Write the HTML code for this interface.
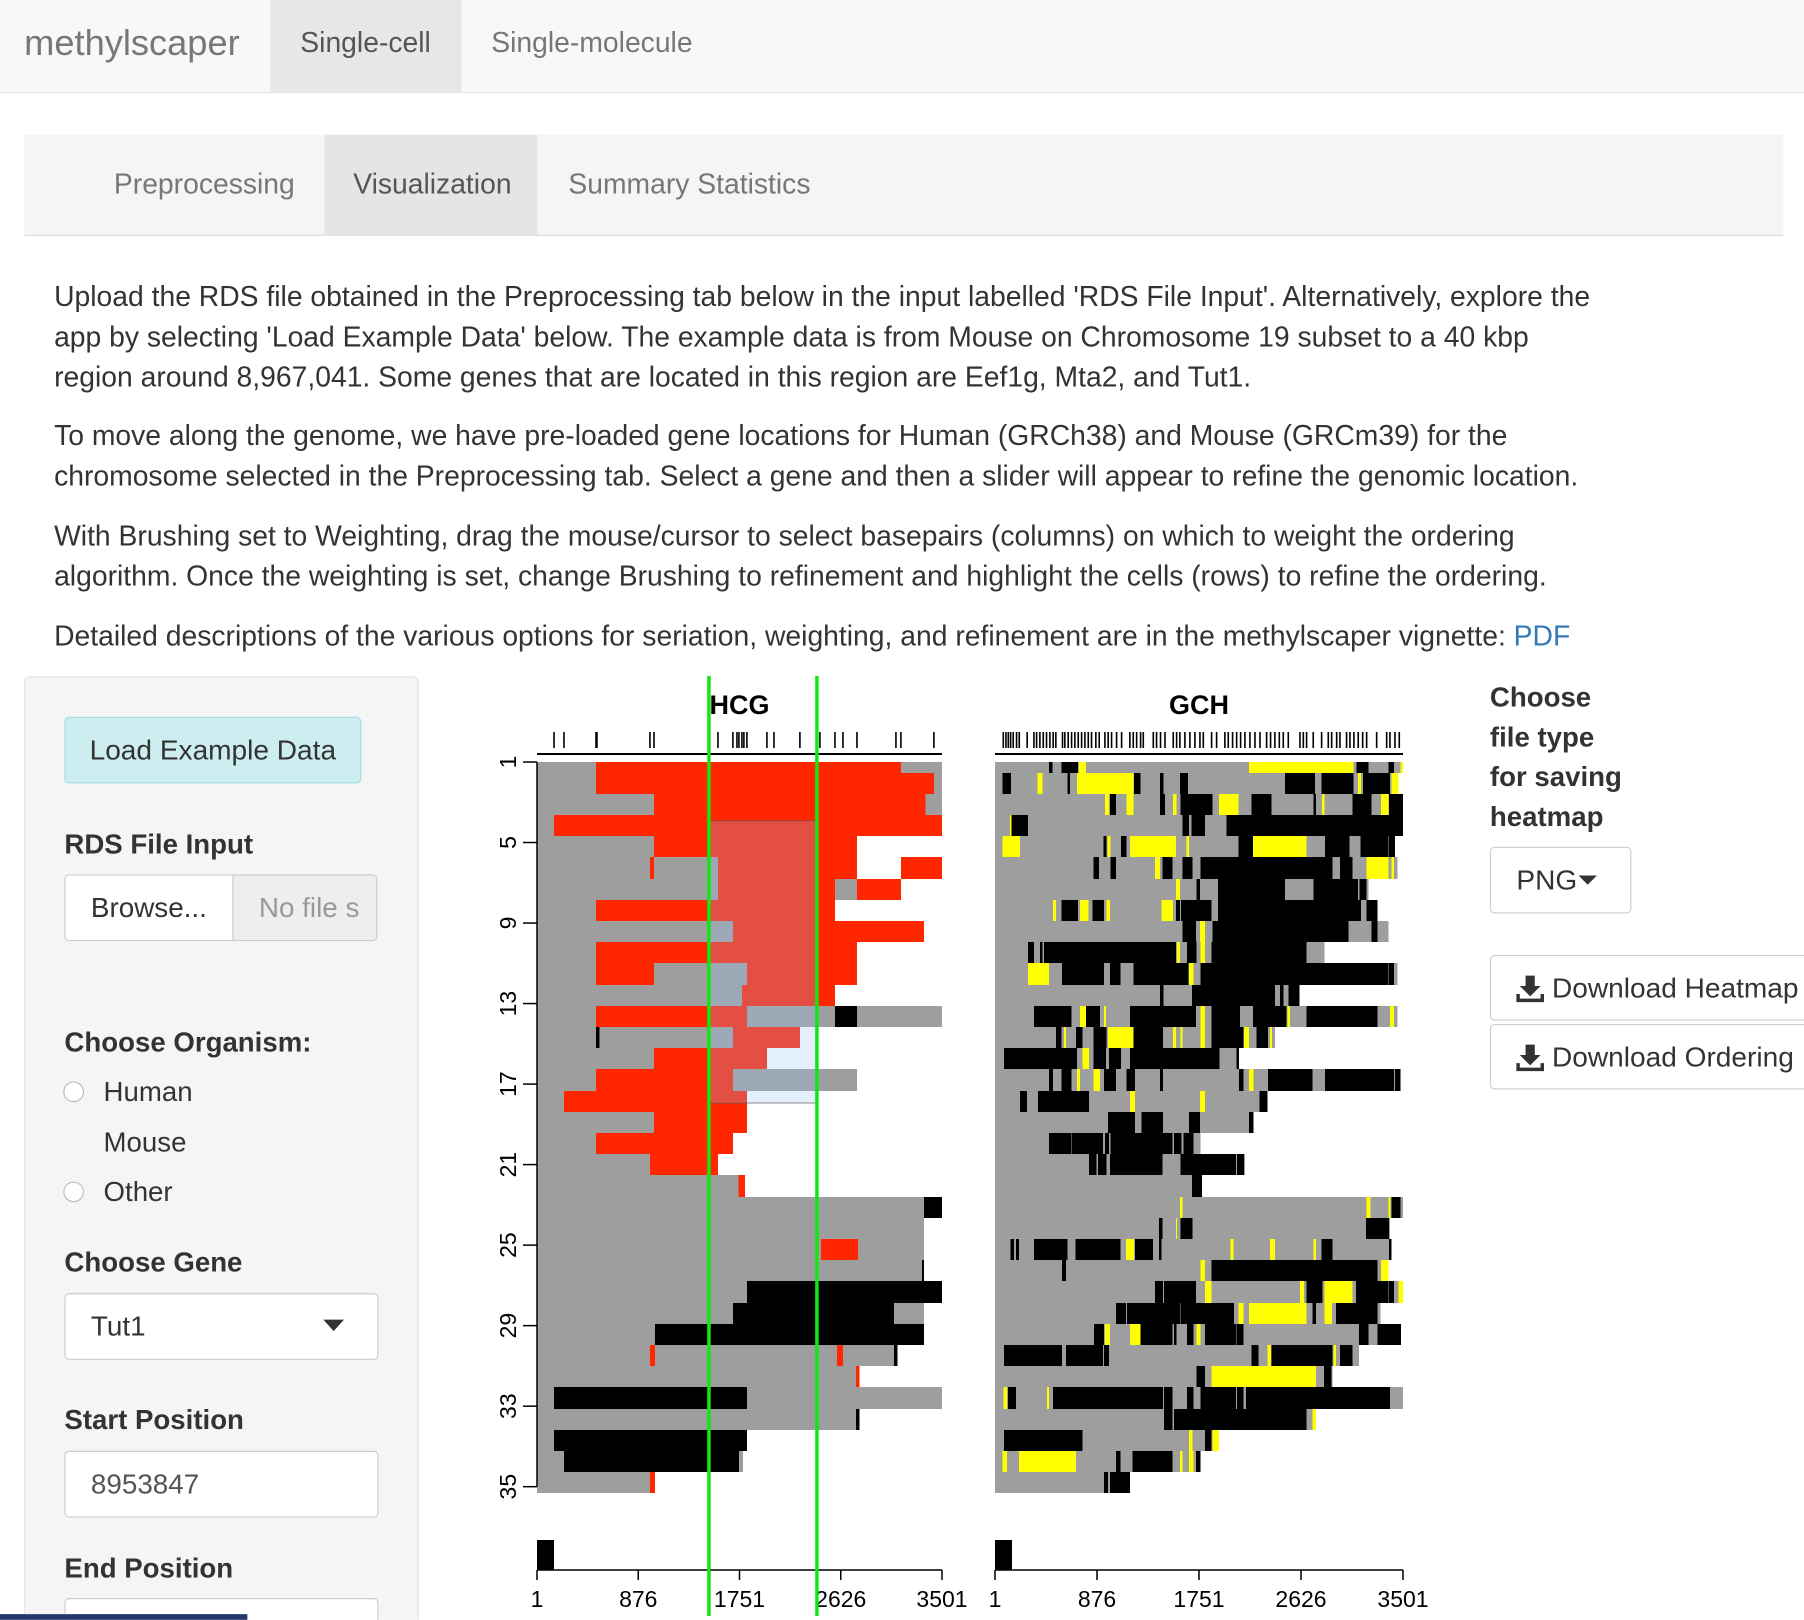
<!DOCTYPE html>
<html><head><meta charset="utf-8">
<style>
html,body{margin:0;padding:0;background:#fff;width:1804px;height:1620px;overflow:hidden;font-family:"Liberation Sans",Arial,sans-serif;}
#ui{position:absolute;left:0;top:0;width:1568px;height:1408px;transform:scale(1.15051);transform-origin:0 0;overflow:hidden;}
.abs{position:absolute;}
.nav{left:0;top:0;width:1568px;height:80px;background:#f8f8f8;border-bottom:1px solid #e7e7e7;}
.t{white-space:nowrap;}
.p{left:47px;font-size:24.6px;color:#333;line-height:35px;white-space:nowrap;}
.lbl{font-size:24px;font-weight:bold;color:#333;}
.inp{background:#fff;border:1px solid #ccc;border-radius:4px;box-sizing:border-box;font-size:24.2px;color:#555;}
.radio{width:18px;height:18px;border:1px solid #bbb;border-radius:50%;background:#fff;box-sizing:border-box;}
.btn{background:#fff;border:1px solid #ccc;border-radius:4px;box-sizing:border-box;font-size:24.4px;color:#333;}
svg text{font-family:"Liberation Sans",Arial,sans-serif;}
#chart rect{shape-rendering:crispEdges;}
</style></head>
<body>
<div id="ui">
  <div class="abs nav"></div>
  <div class="abs t" style="left:21px;top:19px;font-size:31.5px;color:#777;">methylscaper</div>
  <div class="abs" style="left:235px;top:0;width:166px;height:80px;background:#e7e7e7;"></div>
  <div class="abs t" style="left:261px;top:24px;font-size:24.6px;color:#555;">Single-cell</div>
  <div class="abs t" style="left:427px;top:24px;font-size:24.6px;color:#777;">Single-molecule</div>

  <div class="abs" style="left:21px;top:117px;width:1529px;height:87px;background:#f5f5f5;border-bottom:1px solid #ddd;"></div>
  <div class="abs t" style="left:99px;top:147px;font-size:24.6px;color:#777;">Preprocessing</div>
  <div class="abs" style="left:282px;top:117px;width:185px;height:87px;background:#e5e5e5;"></div>
  <div class="abs t" style="left:307px;top:147px;font-size:24.6px;color:#555;">Visualization</div>
  <div class="abs t" style="left:494px;top:147px;font-size:24.6px;color:#777;">Summary Statistics</div>

  <div class="abs p" style="top:241px;">Upload the RDS file obtained in the Preprocessing tab below in the input labelled 'RDS File Input'. Alternatively, explore the<br>app by selecting 'Load Example Data' below. The example data is from Mouse on Chromosome 19 subset to a 40 kbp<br>region around 8,967,041. Some genes that are located in this region are Eef1g, Mta2, and Tut1.</div>
  <div class="abs p" style="top:362px;">To move along the genome, we have pre-loaded gene locations for Human (GRCh38) and Mouse (GRCm39) for the<br>chromosome selected in the Preprocessing tab. Select a gene and then a slider will appear to refine the genomic location.</div>
  <div class="abs p" style="top:449px;">With Brushing set to Weighting, drag the mouse/cursor to select basepairs (columns) on which to weight the ordering<br>algorithm. Once the weighting is set, change Brushing to refinement and highlight the cells (rows) to refine the ordering.</div>
  <div class="abs p" style="top:536px;">Detailed descriptions of the various options for seriation, weighting, and refinement are in the methylscaper vignette: <span style="color:#337ab7">PDF</span></div>

  <div class="abs" style="left:21px;top:588px;width:343px;height:840px;background:#f5f5f5;border:1px solid #e3e3e3;border-radius:4px;box-sizing:border-box;"></div>
  <div class="abs t" style="left:56px;top:623px;width:258px;height:58px;background:#cdeef0;border:1px solid #a9dadf;border-radius:4px;box-sizing:border-box;font-size:24.4px;color:#333;line-height:58px;text-align:center;">Load Example Data</div>
  <div class="abs t lbl" style="left:56px;top:721px;">RDS File Input</div>
  <div class="abs t inp" style="left:56px;top:760px;width:147px;height:58px;line-height:58px;padding-left:22px;color:#333;border-radius:4px 0 0 4px;">Browse...</div>
  <div class="abs t inp" style="left:202px;top:760px;width:126px;height:58px;line-height:58px;padding-left:22px;background:#eee;color:#999;overflow:hidden;border-radius:0 4px 4px 0;">No file s</div>
  <div class="abs t lbl" style="left:56px;top:893px;">Choose Organism:</div>
  <div class="abs radio" style="left:55px;top:940px;"></div>
  <div class="abs t" style="left:90px;top:936px;font-size:24px;color:#333;">Human</div>
  <div class="abs t" style="left:90px;top:980px;font-size:24px;color:#333;">Mouse</div>
  <div class="abs radio" style="left:55px;top:1027px;"></div>
  <div class="abs t" style="left:90px;top:1023px;font-size:24px;color:#333;">Other</div>
  <div class="abs t lbl" style="left:56px;top:1084px;">Choose Gene</div>
  <div class="abs t inp" style="left:56px;top:1124px;width:273px;height:58px;line-height:58px;padding-left:22px;color:#333;">Tut1</div>
  <div class="abs" style="left:281px;top:1147px;width:0;height:0;border-left:9px solid transparent;border-right:9px solid transparent;border-top:10px solid #333;"></div>
  <div class="abs t lbl" style="left:56px;top:1221px;">Start Position</div>
  <div class="abs t inp" style="left:56px;top:1261px;width:273px;height:58px;line-height:58px;padding-left:22px;color:#555;">8953847</div>
  <div class="abs t lbl" style="left:56px;top:1350px;">End Position</div>
  <div class="abs inp" style="left:56px;top:1389px;width:273px;height:58px;"></div>

  <div class="abs lbl" style="left:1295px;top:590px;line-height:34.5px;">Choose<br>file type<br>for saving<br>heatmap</div>
  <div class="abs t btn" style="left:1295px;top:736px;width:123px;height:58px;line-height:58px;padding-left:22px;">PNG</div>
  <div class="abs" style="left:1372px;top:761px;width:0;height:0;border-left:8px solid transparent;border-right:8px solid transparent;border-top:8px solid #333;"></div>
  <div class="abs t btn" style="left:1295px;top:830px;width:290px;height:57px;line-height:57px;padding-left:53px;">Download Heatmap</div>
  <div class="abs t btn" style="left:1295px;top:890px;width:290px;height:57px;line-height:57px;padding-left:53px;">Download Ordering</div>
  <svg class="abs" style="left:1317px;top:846px" width="26" height="26" viewBox="0 0 26 26"><path d="M9 2h8v9h5l-9 9-9-9h5z M1 18h3v4h18v-4h3v7H1z" fill="#333"/></svg>
  <svg class="abs" style="left:1317px;top:906px" width="26" height="26" viewBox="0 0 26 26"><path d="M9 2h8v9h5l-9 9-9-9h5z M1 18h3v4h18v-4h3v7H1z" fill="#333"/></svg>
  <div class="abs" style="left:0;top:1403px;width:215px;height:5px;background:#20386a;"></div>
</div>

<svg id="chart" width="1804" height="1620" style="position:absolute;left:0;top:0;"></svg>

<script>
// ---- data (bp positions 1..3501, cell rows 1..35) ----
const xTicks = [1, 876, 1751, 2626, 3501];
const yTickLabels = [1, 5, 9, 13, 17, 21, 25, 29, 33, 35];
const yTickRows = [1, 5, 9, 13, 17, 21, 25, 29, 33, 37];
const hcgSites = [148,234,511,519,977,1012,1565,1694,1729,1746,1772,1789,1815,1988,2049,2273,2446,2576,2645,2766,3103,3146,3431];
const gchSites = [72,95,115,135,157,186,209,277,335,358,386,415,443,472,500,523,580,600,629,658,686,715,744,772,801,829,866,895,944,972,1001,1044,1087,1158,1187,1216,1250,1273,1359,1387,1421,1459,1530,1559,1587,1630,1673,1716,1759,1788,1859,1902,1973,2002,2039,2074,2108,2145,2188,2231,2274,2331,2365,2402,2440,2474,2517,2617,2646,2674,2731,2803,2860,2889,2932,2960,3017,3046,3080,3117,3155,3189,3275,3361,3389,3432,3469];
const weightLines = [1487, 2420];
const brushCols = [1478, 2420];
const brushRows = [3.78, 17.08];
// HCG rows: [start, end, type] n=no data(gray) m=methylated(red) u=unmethylated(black)
const hcgRows = [
 [[1,510,'n'],[510,3145,'m'],[3145,3500,'n']],
 [[1,510,'n'],[510,3430,'m'],[3430,3500,'n']],
 [[1,1011,'n'],[1011,3360,'m'],[3360,3500,'n']],
 [[1,147,'n'],[147,3500,'m']],
 [[1,1011,'n'],[1011,2765,'m']],
 [[1,976,'n'],[976,1011,'m'],[1011,1565,'n'],[1565,2765,'m'],[3145,3500,'m']],
 [[1,1565,'n'],[1565,2575,'m'],[2575,2765,'n'],[2765,3145,'m']],
 [[1,510,'n'],[510,2575,'m']],
 [[1,1693,'n'],[1693,3344,'m']],
 [[1,510,'n'],[510,2765,'m']],
 [[1,510,'n'],[510,1011,'m'],[1011,1815,'n'],[1815,2765,'m']],
 [[1,1772,'n'],[1772,2575,'m']],
 [[1,510,'n'],[510,1815,'m'],[1815,2575,'n'],[2575,2765,'u'],[2765,3500,'n']],
 [[1,510,'n'],[510,540,'u'],[540,1693,'n'],[1693,2272,'m']],
 [[1,1011,'n'],[1011,1987,'m']],
 [[1,510,'n'],[510,1693,'m'],[1693,2765,'n']],
 [[1,236,'n'],[236,1815,'m']],
 [[1,1011,'n'],[1011,1815,'m']],
 [[1,510,'n'],[510,1693,'m']],
 [[1,976,'n'],[976,1565,'m']],
 [[1,1743,'n'],[1743,1800,'m']],
 [[1,3344,'n'],[3344,3500,'u']],
 [[1,3344,'n']],
 [[1,2454,'n'],[2454,2774,'m'],[2774,3344,'n']],
 [[1,3330,'n'],[3330,3344,'u']],
 [[1,1815,'n'],[1815,3500,'u']],
 [[1,1694,'n'],[1694,3085,'u'],[3085,3344,'n']],
 [[1,1020,'n'],[1020,3344,'u']],
 [[1,976,'n'],[976,1020,'m'],[1020,2592,'n'],[2592,2644,'m'],[2644,3085,'n'],[3085,3115,'u']],
 [[1,2757,'n'],[2757,2790,'m']],
 [[1,147,'n'],[147,1815,'u'],[1815,3500,'n']],
 [[1,2757,'n'],[2757,2790,'u']],
 [[1,147,'n'],[147,1815,'u']],
 [[1,233,'n'],[233,1745,'u'],[1745,1780,'n']],
 [[1,976,'n'],[976,1020,'m']]
];
// GCH rows: gray extent end, then [start,end,type] u=black y=yellow
const gchEnds = [3500,3461,3500,3500,3432,3455,3203,3283,3378,2826,3452,2614,3455,2402,2093,3480,2340,2217,1764,2145,1776,3500,3389,3403,3378,3500,3309,3483,3123,2897,3500,2754,1922,1764,1158];
const gchMarks = [
 [[466,495,'u'],[572,715,'u'],[723,781,'y'],[2182,3075,'y'],[3103,3203,'u'],[3375,3424,'u'],[3480,3500,'y']],
 [[66,137,'u'],[366,409,'y'],[623,646,'u'],[706,1187,'y'],[1193,1250,'u'],[1416,1445,'u'],[1587,1656,'u'],[2488,2746,'u'],[2803,3075,'u'],[3117,3140,'y'],[3160,3389,'u'],[3403,3461,'y']],
 [[944,981,'y'],[987,1038,'u'],[1130,1187,'y'],[1416,1459,'u'],[1530,1559,'y'],[1593,1868,'u'],[1922,2088,'y'],[2202,2374,'u'],[2732,2754,'u'],[2806,2829,'y'],[3069,3232,'u'],[3312,3375,'y'],[3381,3500,'u']],
 [[129,143,'y'],[143,283,'u'],[1610,1664,'u'],[1687,1802,'u'],[1988,3500,'u']],
 [[66,215,'y'],[930,958,'u'],[964,992,'y'],[1081,1130,'u'],[1158,1553,'y'],[1645,1664,'y'],[2088,2216,'u'],[2216,2674,'y'],[2832,3040,'u'],[3138,3375,'u'],[3381,3432,'u']],
 [[844,895,'u'],[992,1038,'u'],[1373,1416,'y'],[1439,1524,'u'],[1610,1696,'u'],[1765,2897,'u'],[2960,3069,'u'],[3189,3375,'y'],[3403,3423,'y']],
 [[1553,1587,'y'],[1730,1759,'u'],[1916,2488,'u'],[2732,3117,'u'],[3126,3189,'u']],
 [[500,523,'y'],[572,715,'u'],[729,804,'y'],[838,935,'u'],[958,987,'y'],[1430,1530,'y'],[1553,1587,'u'],[1596,1859,'u'],[1916,3140,'u'],[3189,3283,'u']],
 [[1610,1725,'u'],[1759,1802,'y'],[1868,3034,'u'],[3232,3283,'u']],
 [[283,335,'u'],[386,409,'u'],[420,1553,'u'],[1564,1587,'y'],[1650,1730,'u'],[1764,1802,'y'],[1859,2674,'u']],
 [[283,463,'y'],[575,935,'u'],[987,1078,'u'],[1187,1662,'u'],[1667,1702,'y'],[1764,3375,'u'],[3381,3424,'u']],
 [[1416,1445,'u'],[1690,2403,'u'],[2446,2474,'u'],[2517,2614,'u']],
 [[335,658,'u'],[729,781,'y'],[781,901,'u'],[935,952,'y'],[1158,1725,'u'],[1764,1802,'y'],[1859,2102,'u'],[2216,2503,'u'],[2509,2531,'y'],[2674,3283,'u'],[3389,3423,'y']],
 [[523,572,'u'],[592,609,'y'],[695,752,'u'],[844,958,'u'],[972,1187,'y'],[1187,1444,'u'],[1530,1553,'y'],[1593,1610,'y'],[1764,1802,'y'],[1859,2131,'u'],[2136,2182,'y'],[2245,2345,'u'],[2360,2377,'y']],
 [[77,706,'u'],[752,806,'y'],[844,952,'u'],[981,1084,'u'],[1158,1925,'u'],[2074,2093,'u']],
 [[466,500,'u'],[572,658,'u'],[706,729,'y'],[844,901,'y'],[935,1038,'u'],[1130,1201,'u'],[1416,1444,'u'],[2096,2131,'u'],[2182,2217,'y'],[2345,2725,'u'],[2832,3424,'u'],[3432,3480,'u']],
 [[214,277,'u'],[372,806,'u'],[1158,1201,'y'],[1759,1802,'y'],[2268,2340,'u']],
 [[972,1201,'u'],[1258,1444,'u'],[1667,1759,'u'],[2182,2217,'u']],
 [[466,652,'u'],[658,929,'u'],[944,981,'u'],[992,1524,'u'],[1536,1602,'u'],[1616,1702,'u']],
 [[809,872,'u'],[886,958,'u'],[987,1439,'u'],[1593,2068,'u'],[2079,2136,'u']],
 [[1690,1776,'u']],
 [[1587,1610,'y'],[3189,3224,'y'],[3375,3395,'y'],[3403,3480,'u']],
 [[1410,1439,'u'],[1553,1564,'y'],[1593,1696,'u'],[3183,3380,'u']],
 [[134,163,'u'],[180,209,'u'],[335,623,'u'],[692,1078,'u'],[1124,1193,'y'],[1201,1358,'u'],[1410,1430,'u'],[2022,2045,'y'],[2360,2403,'y'],[2732,2754,'y'],[2803,2897,'u'],[3383,3403,'u']],
 [[575,609,'u'],[1764,1802,'y'],[1859,3283,'u'],[3312,3378,'y']],
 [[1373,1444,'u'],[1450,1724,'u'],[1802,1859,'y'],[2617,2651,'y'],[2674,2811,'u'],[2829,3069,'y'],[3097,3375,'u'],[3381,3424,'u'],[3461,3500,'y']],
 [[1038,1124,'u'],[1133,1587,'u'],[1593,2053,'u'],[2088,2131,'y'],[2182,2674,'y'],[2726,2754,'u'],[2829,2894,'y'],[2926,3283,'u']],
 [[849,935,'u'],[944,987,'y'],[1158,1250,'y'],[1250,1524,'u'],[1536,1559,'u'],[1650,1702,'u'],[1730,1764,'y'],[1802,2073,'u'],[2079,2131,'u'],[3123,3203,'u'],[3283,3483,'u']],
 [[77,575,'u'],[609,929,'u'],[935,981,'u'],[2202,2260,'u'],[2340,2368,'y'],[2374,2897,'u'],[2903,2926,'y'],[2960,3069,'u']],
 [[1730,1802,'u'],[1859,2754,'y'],[2823,2889,'u']],
 [[72,106,'y'],[112,180,'u'],[449,466,'y'],[500,1444,'u'],[1450,1524,'u'],[1650,1702,'u'],[1764,2068,'u'],[2079,2131,'u'],[2154,3389,'u']],
 [[1450,1524,'u'],[1536,2674,'u'],[2726,2754,'y']],
 [[77,752,'u'],[1667,1696,'y'],[1802,1859,'u'],[1868,1922,'y']],
 [[66,106,'y'],[209,695,'y'],[1038,1078,'u'],[1181,1524,'u'],[1587,1610,'y'],[1667,1702,'y'],[1725,1764,'u']],
 [[935,972,'u'],[987,1158,'u']]
];

// ---- drawing ----
const NS = 'http://www.w3.org/2000/svg';
const svg = document.getElementById('chart');
const COLORS = {n:'#9e9e9e', m:'#ff2600', u:'#000000', y:'#ffff00'};
const TOP = 762, ROWH = 21.2, TICKH = 20.13;
const panels = [{name:'hcg', x0:537, x1:942, title:'HCG'}, {name:'gch', x0:995, x1:1403, title:'GCH'}];
function xs(p, v){ return p.x0 + (v - 1) / 3500 * (p.x1 - p.x0); }
function yc(r){ return TOP + (r - 1) * ROWH; }
function yt(r){ return TOP + (r - 1) * TICKH; }
function mk(tag, attrs, parent){
  const e = document.createElementNS(NS, tag);
  for (const k in attrs) e.setAttribute(k, attrs[k]);
  (parent || svg).appendChild(e);
  return e;
}
function cell(p, r, s, e, t, grp){
  const y0 = Math.round(Math.max(TOP, yc(r) - ROWH/2)), y1 = Math.round(yc(r) + ROWH/2);
  const el = mk('rect', {x: xs(p, s), y: y0, width: Math.max(1, xs(p, e) - xs(p, s)), height: y1 - y0, fill: COLORS[t]}, grp);
  
  
}
panels.forEach((p, pi) => {
  const g = mk('g', {});
  
  
  if (pi === 0) {
    hcgRows.forEach((row, i) => row.forEach(seg => cell(p, i + 1, seg[0], seg[1], seg[2], g)));
  } else {
    gchEnds.forEach((end, i) => {
      cell(p, i + 1, 1, end, 'n', g);
      gchMarks[i].forEach(seg => cell(p, i + 1, seg[0], seg[1], seg[2], g));
    });
  }
  const tt = mk('text', {x: (p.x0 + p.x1) / 2, y: 714, 'text-anchor': 'middle', 'font-size': 27, 'font-weight': 'bold', fill: '#000'});
  tt.textContent = p.title;
  
  
  const bl = mk('line', {x1: p.x0, x2: p.x1, y1: 754, y2: 754, stroke: '#000', 'stroke-width': 2});
  
  
  (pi === 0 ? hcgSites : gchSites).forEach(v => {
    const l = mk('line', {x1: xs(p, v), x2: xs(p, v), y1: 732, y2: 748, stroke: '#000', 'stroke-width': 1.6});
    
    
  });
  const sq = mk('rect', {x: p.x0, y: 1540, width: 17, height: 30, fill: '#000'});
  
  
  const ax = mk('line', {x1: p.x0, x2: p.x1, y1: 1570, y2: 1570, stroke: '#000', 'stroke-width': 1.5});
  
  
  xTicks.forEach(v => {
    const tk = mk('line', {x1: xs(p, v), x2: xs(p, v), y1: 1570, y2: 1580, stroke: '#000', 'stroke-width': 1.5});
    
    
    const tl = mk('text', {x: xs(p, v), y: 1607, 'text-anchor': 'middle', 'font-size': 23, fill: '#000'});
    tl.textContent = v;
    
    
  });
});
const p0 = panels[0];
const yax = mk('line', {x1: 537, x2: 537, y1: TOP, y2: yt(yTickRows[yTickRows.length - 1]), stroke: '#000', 'stroke-width': 1.5});


yTickLabels.forEach((v, i) => {
  const y = yt(yTickRows[i]);
  const tk = mk('line', {x1: 523, x2: 537, y1: y, y2: y, stroke: '#000', 'stroke-width': 1.5});
  
  
  const tl = mk('text', {x: 0, y: 0, 'text-anchor': 'middle', 'font-size': 23, fill: '#000', transform: 'translate(516,' + y + ') rotate(-90)'});
  tl.textContent = v;
  
  
});
const br = mk('rect', {x: xs(p0, brushCols[0]), y: yc(brushRows[0]), width: xs(p0, brushCols[1]) - xs(p0, brushCols[0]), height: yc(brushRows[1]) - yc(brushRows[0]), fill: 'rgba(150,195,247,0.27)', stroke: 'rgba(90,90,90,0.35)', 'stroke-width': 2});


weightLines.forEach(v => {
  const l = mk('line', {x1: xs(p0, v), x2: xs(p0, v), y1: 676, y2: 1616, stroke: '#11e811', 'stroke-width': 3.5});
  
  
});
</script>
</body></html>
